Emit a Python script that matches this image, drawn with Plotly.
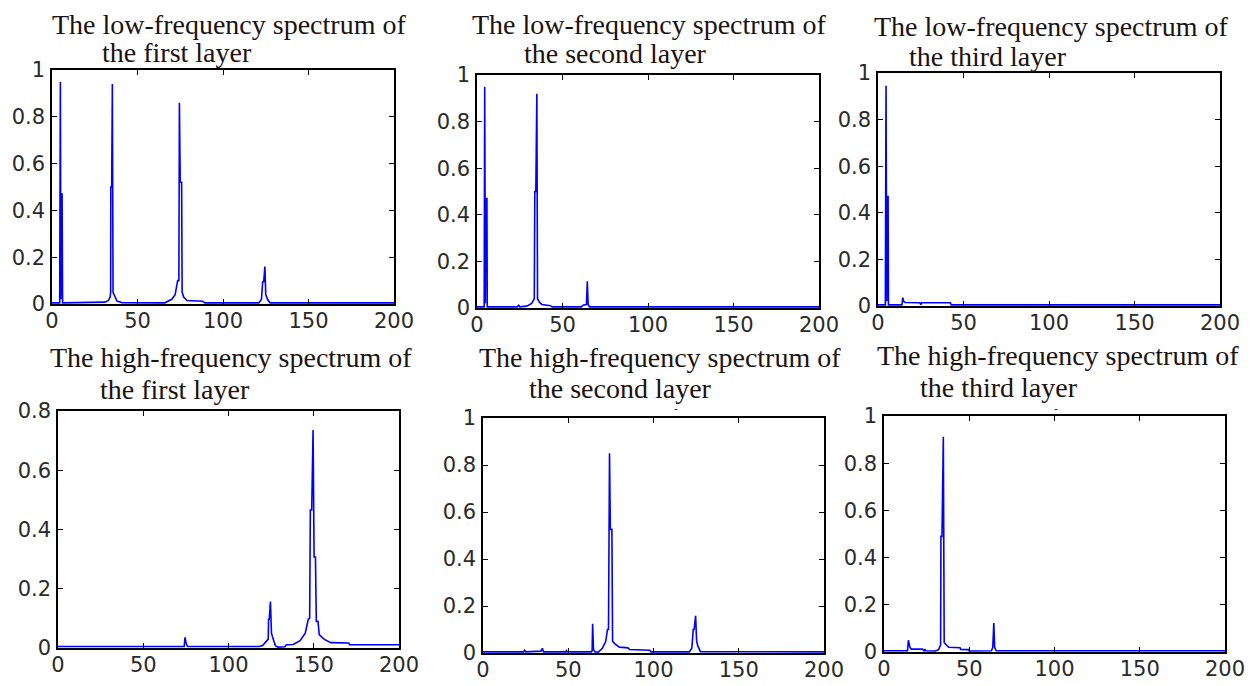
import plotly.graph_objects as go

# The page body keeps the browser's 8 px margin, so the figure is drawn 8 px in from the
# window corner; every reference pixel p is placed at figure pixel p - OFF.
OFF = 8
W, H = 1254 - OFF, 686 - OFF

# ---------------- data ----------------
titles_line1 = [
    "The low-frequency spectrum of", "The low-frequency spectrum of", "The low-frequency spectrum of",
    "The high-frequency spectrum of", "The high-frequency spectrum of", "The high-frequency spectrum of",
]
titles_line2 = [
    "the first layer", "the second layer", "the third layer",
    "the first layer", "the second layer", "the third layer",
]

low1_x = [0, 4.5, 4.9, 5.2, 5.5, 5.9, 6.2, 28, 31, 33, 34, 34.3, 34.4, 34.9, 35.3, 35.7, 36.5, 38, 41, 66, 70, 72,
          73.5, 74.2, 74.5, 75.0, 75.8, 76.1, 77, 79, 88, 89.5, 121, 122.5, 123.2, 123.8, 124.5, 125, 126, 127.5, 200]
low1_y = [0.005, 0.005, 0.95, 0.02, 0.47, 0.47, 0.005, 0.005, 0.008, 0.015, 0.03, 0.05, 0.5, 0.5, 0.94, 0.05, 0.035,
          0.012, 0.006, 0.005, 0.02, 0.04, 0.1, 0.1, 0.86, 0.52, 0.52, 0.05, 0.03, 0.015, 0.012, 0.005, 0.005, 0.02,
          0.095, 0.095, 0.16, 0.04, 0.02, 0.005, 0.005]

low2_x = [0, 4.2, 4.5, 4.9, 5.2, 5.8, 6.0, 23.5, 24.4, 25, 29, 32, 33.5, 33.8, 34.4, 35, 35.4, 36.5, 38, 43, 44,
          61, 62, 64, 64.5, 65, 65.8, 200]
low2_y = [0.005, 0.005, 0.95, 0.02, 0.47, 0.47, 0.005, 0.005, 0.012, 0.005, 0.008, 0.02, 0.04, 0.5, 0.5, 0.92,
          0.04, 0.025, 0.015, 0.01, 0.005, 0.005, 0.012, 0.015, 0.115, 0.015, 0.005, 0.005]

low3_x = [0, 4.3, 4.7, 5.1, 5.4, 5.9, 6.1, 14, 14.5, 15, 16, 24.5, 25, 25.5, 42.3, 42.8, 200]
low3_y = [0.005, 0.005, 0.945, 0.02, 0.47, 0.47, 0.005, 0.005, 0.036, 0.02, 0.015, 0.014, 0.006, 0.014, 0.014,
          0.005, 0.005]

high1_x = [0, 74, 74.5, 75.2, 76, 118, 120, 122, 123.3, 123.5, 123.9, 124.6, 125.2, 126.2, 127.5, 129, 133, 134,
           138, 142, 145, 146.8, 147.6, 148, 148.8, 149.6, 150.2, 151, 151.5, 152.5, 153.2, 156, 160, 170.5, 171, 200]
high1_y = [0.005, 0.005, 0.036, 0.015, 0.005, 0.005, 0.008, 0.02, 0.03, 0.097, 0.097, 0.157, 0.05, 0.03, 0.008,
           0.003, 0.004, 0.011, 0.012, 0.025, 0.05, 0.097, 0.1, 0.466, 0.466, 0.736, 0.307, 0.307, 0.09, 0.09,
           0.045, 0.03, 0.018, 0.017, 0.011, 0.011]

high2_x = [0, 23.8, 24.4, 25, 34, 34.8, 35.5, 48.5, 48.9, 49.3, 63.5, 64, 64.3, 64.8, 65.5, 67.5, 70, 72, 73, 73.6,
           74.2, 74.7, 75.6, 76, 77.2, 80, 85, 86, 97.8, 98.5, 121, 122.5, 123.3, 123.8, 124.7, 125.3, 126, 127.5, 200]
high2_y = [0.005, 0.005, 0.012, 0.005, 0.008, 0.02, 0.005, 0.005, 0.01, 0.005, 0.005, 0.01, 0.124, 0.015, 0.005,
           0.003, 0.02, 0.05, 0.1, 0.1, 0.85, 0.526, 0.526, 0.05, 0.04, 0.025, 0.022, 0.015, 0.012, 0.005, 0.005,
           0.02, 0.1, 0.1, 0.158, 0.05, 0.03, 0.006, 0.005]

high3_x = [0, 13.8, 14.3, 14.8, 15.2, 16, 22.5, 23.5, 24, 24.6, 30, 32, 33.2, 33.4, 34, 34.8, 35.3, 36.5, 38, 44.6,
           45, 49.5, 50, 63, 63.8, 64.4, 64.9, 65.8, 200]
high3_y = [0.005, 0.005, 0.05, 0.03, 0.02, 0.012, 0.012, 0.005, 0.012, 0.005, 0.004, 0.01, 0.03, 0.49, 0.49, 0.912,
           0.04, 0.03, 0.02, 0.018, 0.011, 0.01, 0.004, 0.005, 0.02, 0.123, 0.02, 0.005, 0.005]

series_x = [low1_x, low2_x, low3_x, high1_x, high2_x, high3_x]
series_y = [low1_y, low2_y, low3_y, high1_y, high2_y, high3_y]

x_ticks = [0, 50, 100, 150, 200]
y_ticks_full = [0, 0.2, 0.4, 0.6, 0.8, 1]
y_labels_full = ["0", "0.2", "0.4", "0.6", "0.8", "1"]
y_ticks_08 = [0, 0.2, 0.4, 0.6, 0.8]
y_labels_08 = ["0", "0.2", "0.4", "0.6", "0.8"]
y_max = [1, 1, 1, 0.8, 1, 1]

# ---------------- layout (pixel boxes of each plot area, window pixels) ----------------
boxes = [  # left, right, top, bottom
    (52, 394, 70, 304),
    (477, 819, 75, 308),
    (878, 1220, 73, 306),
    (58, 399, 411, 648),
    (483, 824, 418, 653),
    (884, 1225, 416, 652),
]
title_pos = [  # line1 left x, line1 center y, line2 left x, line2 center y
    (50, 24, 100, 52),
    (470, 25, 522, 54),
    (872, 26, 907, 57),
    (48, 358, 98, 390),
    (477, 357, 527, 388),
    (875, 355, 918, 387),
]
stray_marks = [(676, 408), (1056, 408)]  # tiny dashes above the lower middle/right panels


def px(x):
    return (x - OFF) / W


def py(y):
    return 1 - (y - OFF) / H


fig = go.Figure()
layout = dict(
    width=W, height=H, margin=dict(l=0, r=0, t=0, b=0, autoexpand=False),
    paper_bgcolor="white", plot_bgcolor="white", showlegend=False,
)
annotations = []
tick_font = dict(family="DejaVu Sans, Arial, sans-serif", size=21, color="#2a2a2a")
title_font = dict(family="Liberation Serif, Times New Roman, serif", size=28, color="#1c1212")

for i in range(6):
    n = "" if i == 0 else str(i + 1)
    l, r, t, b = boxes[i]
    fig.add_trace(go.Scatter(
        x=series_x[i], y=series_y[i], mode="lines",
        line=dict(color="#0000ff", width=1.6),
        xaxis="x" + n, yaxis="y" + n, hoverinfo="skip",
    ))
    common = dict(showline=True, linecolor="black", linewidth=1.5, mirror="ticks",
                  ticks="inside", ticklen=5, tickcolor="black", tickwidth=1,
                  showgrid=False, zeroline=False, tickfont=tick_font, automargin=False)
    layout["xaxis" + n] = dict(
        domain=[px(l), px(r)], range=[0, 200], anchor="y" + n, ticklabelstandoff=-3,
        tickmode="array", tickvals=x_ticks, ticktext=[str(v) for v in x_ticks], **common)
    if y_max[i] == 1:
        tv, tt = y_ticks_full, y_labels_full
    else:
        tv, tt = y_ticks_08, y_labels_08
    layout["yaxis" + n] = dict(
        domain=[py(b), py(t)], range=[0, y_max[i]], anchor="x" + n, ticklabelstandoff=1,
        tickmode="array", tickvals=tv, ticktext=tt, **common)
    x1, y1, x2, y2 = title_pos[i]
    annotations.append(dict(text=titles_line1[i], xref="paper", yref="paper",
                            x=px(x1), y=py(y1), xanchor="left", yanchor="middle",
                            showarrow=False, font=title_font))
    annotations.append(dict(text=titles_line2[i], xref="paper", yref="paper",
                            x=px(x2), y=py(y2), xanchor="left", yanchor="middle",
                            showarrow=False, font=title_font))

for sx, sy in stray_marks:
    annotations.append(dict(text="-", xref="paper", yref="paper", x=px(sx), y=py(sy),
                            xanchor="center", yanchor="middle", showarrow=False,
                            font=dict(family="DejaVu Sans, sans-serif", size=11, color="#111111")))

layout["annotations"] = annotations
fig.update_layout(**layout)
fig.write_html("out.html")
